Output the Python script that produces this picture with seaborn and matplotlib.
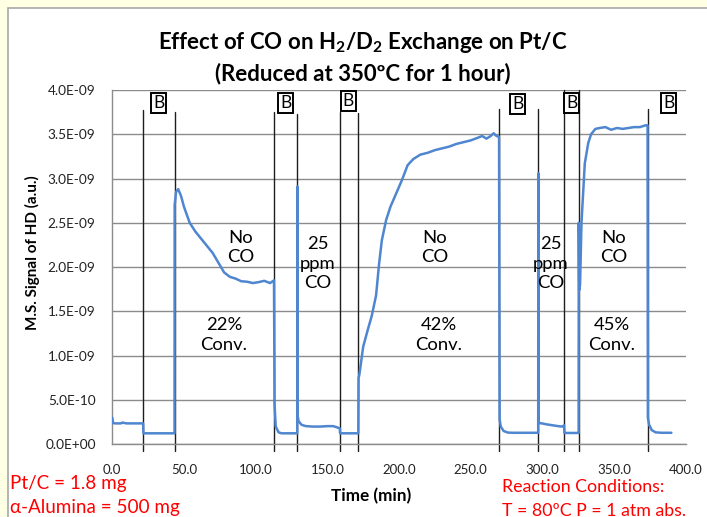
import matplotlib
matplotlib.use("Agg")
import matplotlib.pyplot as plt
import seaborn as sns
import pandas as pd
from matplotlib.patches import Rectangle

# ---------------- data ----------------
time_min = [0, 0.5, 2, 6, 7, 10, 21.5, 21.7, 43.4, 43.5, 44.5, 46, 48, 50, 54, 58, 62, 66, 70,
            74, 78, 82, 86, 90, 94, 98, 102, 106, 110, 112.8, 113.2, 114, 116, 118, 129.0,
            129.1, 129.3, 130, 132, 135, 140, 145, 150, 154, 157, 158.7, 158.9, 171.6, 171.8,
            172.3, 175, 178, 181, 184, 186, 188, 191, 194, 198, 202, 206, 210, 215, 220, 225,
            230, 235, 240, 245, 250, 255, 258, 261, 264, 266, 268, 269.8, 270.2, 271, 273,
            276, 280, 297.1, 297.2, 297.4, 298, 300, 303, 307, 311, 314, 315.2, 315.4, 325.3,
            325.4, 325.7, 326.3, 327.3, 329.6, 332, 334, 337, 340, 344, 348, 352, 356, 360,
            364, 368, 372, 373.4, 373.6, 374.5, 376.3, 379, 383, 390]
signal_e9 = [0.30, 0.24, 0.236, 0.236, 0.245, 0.236, 0.236, 0.124, 0.124, 2.70, 2.85, 2.88,
             2.80, 2.68, 2.50, 2.40, 2.32, 2.24, 2.16, 2.05, 1.94, 1.89, 1.87, 1.84, 1.835,
             1.82, 1.83, 1.845, 1.82, 1.85, 0.45, 0.20, 0.135, 0.124, 0.124, 2.91, 0.32, 0.26,
             0.22, 0.205, 0.20, 0.20, 0.205, 0.205, 0.19, 0.18, 0.124, 0.124, 0.75, 0.78,
             1.10, 1.28, 1.45, 1.68, 2.02, 2.30, 2.53, 2.68, 2.83, 2.98, 3.15, 3.22, 3.27,
             3.29, 3.32, 3.34, 3.36, 3.39, 3.41, 3.43, 3.46, 3.48, 3.45, 3.48, 3.51, 3.48,
             3.47, 0.28, 0.20, 0.15, 0.132, 0.13, 0.13, 3.06, 0.26, 0.24, 0.235, 0.225,
             0.215, 0.205, 0.20, 0.215, 0.128, 0.128, 2.50, 1.74, 1.80, 2.50, 3.17, 3.40,
             3.50, 3.56, 3.57, 3.58, 3.55, 3.57, 3.56, 3.57, 3.58, 3.58, 3.60, 3.60, 0.30,
             0.22, 0.16, 0.135, 0.13, 0.13]

switch_times = [21.6, 43.5, 113.0, 129.1, 158.8, 171.6, 270.0, 297.2, 315.3, 325.4, 373.5]
switch_tops_e9 = [3.77, 3.75, 3.75, 3.73, 3.75, 3.74, 3.78, 3.78, 4.0, 4.0, 3.78]

b_times = [32.4, 121.0, 164.6, 282.8, 320.5, 388.2]
b_vals_e9 = [3.85, 3.85, 3.875, 3.84, 3.85, 3.85]

ann_labels = ["No\nCO", "25\nppm\nCO", "No\nCO", "25\nppm\nCO", "No\nCO",
              "22%\nConv.", "42%\nConv.", "45%\nConv."]
ann_times = [89.4, 143.5, 225.1, 306.0, 350.0, 78.0, 227.7, 348.6]
ann_vals_e9 = [2.22, 2.04, 2.22, 2.04, 2.22, 1.234, 1.234, 1.234]

x_ticks = [0, 50, 100, 150, 200, 250, 300, 350, 400]
y_ticks_e9 = [0, 0.5, 1.0, 1.5, 2.0, 2.5, 3.0, 3.5, 4.0]

title = "Effect of CO on H$_\\mathbf{2}$/D$_\\mathbf{2}$ Exchange on Pt/C\n(Reduced at 350ºC for 1 hour)"
x_label = "Time (min)"
y_label = "M.S. Signal of HD (a.u.)"
left_notes = ["Pt/C = 1.8 mg", "α-Alumina = 500 mg"]
right_notes = ["Reaction Conditions:", "T = 80ºC P = 1 atm abs."]

# ---------------- style ----------------
sns.set_theme(style="white")
FONT = ["Lato", "DejaVu Sans"]
plt.rcParams["font.family"] = FONT
plt.rcParams["mathtext.fontset"] = "custom"
plt.rcParams["mathtext.rm"] = "Lato"
plt.rcParams["mathtext.bf"] = "Lato:bold"

W, H = 707, 517
fig = plt.figure(figsize=(W / 100, H / 100), dpi=100, facecolor="#FFFFE3")
# white chart panel
panel = Rectangle((8 / W, -0.05), 1.0, (H - 7.5) / H + 0.05, transform=fig.transFigure,
                  facecolor="white", edgecolor="#A8A8A8", lw=1.2, zorder=-10)
fig.patches.append(panel)

ax_l, ax_r, ax_t, ax_b = 112.3, 685.7, 89.9, 444.3
ax = fig.add_axes([ax_l / W, 1 - ax_b / H, (ax_r - ax_l) / W, (ax_b - ax_t) / H])
ax.set_facecolor("none")
ax.set_zorder(1)

df = pd.DataFrame({"t": time_min, "s": [v * 1e-9 for v in signal_e9]})
sns.lineplot(data=df, x="t", y="s", ax=ax, color="#4F86D0", lw=1.8, sort=False,
             estimator=None, zorder=3)

ax.set_xlim(0, 400)
ax.set_ylim(0, 4e-9)
ax.set_xticks(x_ticks)
ax.set_xticklabels([f"{v:.1f}" for v in x_ticks])
ax.set_yticks([v * 1e-9 for v in y_ticks_e9])
ax.set_yticklabels([f"{v * 1e-9:.1E}" for v in y_ticks_e9])
ax.set_xlabel("")
ax.set_ylabel("")
ax.tick_params(axis="x", length=0, pad=14, labelsize=9.5, colors="#222222")
ax.tick_params(axis="y", length=3, width=1, color="#888888", pad=9, labelsize=9.8,
               colors="#222222")
ax.yaxis.grid(True, color="#8C8C8C", lw=1)
ax.xaxis.grid(False)
for s in ["top", "right"]:
    ax.spines[s].set_visible(False)
for s in ["left", "bottom"]:
    ax.spines[s].set_color("#8C8C8C")
    ax.spines[s].set_linewidth(1)
ax.yaxis.offsetText.set_visible(False)

# switching lines
for tx, top in zip(switch_times, switch_tops_e9):
    ax.plot([tx, tx], [-0.07e-9, top * 1e-9], color="#1E1E1E", lw=1, clip_on=False, zorder=2)

# B boxes
for tx, v in zip(b_times, b_vals_e9):
    ax.text(tx, v * 1e-9, "B", ha="center", va="center", fontsize=12.5, color="black",
            bbox=dict(boxstyle="square,pad=0.12", fc="white", ec="black", lw=1.4), zorder=5)

# annotations
for lab, tx, v in zip(ann_labels, ann_times, ann_vals_e9):
    ax.text(tx, v * 1e-9, lab, ha="center", va="center", fontsize=13.3, linespacing=1.25,
            color="black", zorder=4)

# titles and labels
fig.text(363 / W, 1 - 57 / H, title, ha="center", va="center", fontsize=16,
         fontweight="bold", linespacing=1.4, color="black")
fig.text(32.5 / W, 1 - 252.5 / H, y_label, rotation=90, ha="center", va="center",
         fontsize=11, fontweight="bold", color="black")
fig.text(371 / W, 1 - 496 / H, x_label, ha="center", va="center", fontsize=12.3,
         fontweight="bold", color="black")

fig.text(10 / W, 1 - 484 / H, left_notes[0], ha="left", va="center", fontsize=13.6, color="#FF0000")
fig.text(10 / W, 1 - 508 / H, left_notes[1], ha="left", va="center", fontsize=13.6, color="#FF0000")
fig.text(502 / W, 1 - 487 / H, right_notes[0], ha="left", va="center", fontsize=12.8, color="#FF0000")
fig.text(502 / W, 1 - 511 / H, right_notes[1], ha="left", va="center", fontsize=12.8, color="#FF0000")

fig.savefig("out.png", dpi=100, facecolor=fig.get_facecolor())
